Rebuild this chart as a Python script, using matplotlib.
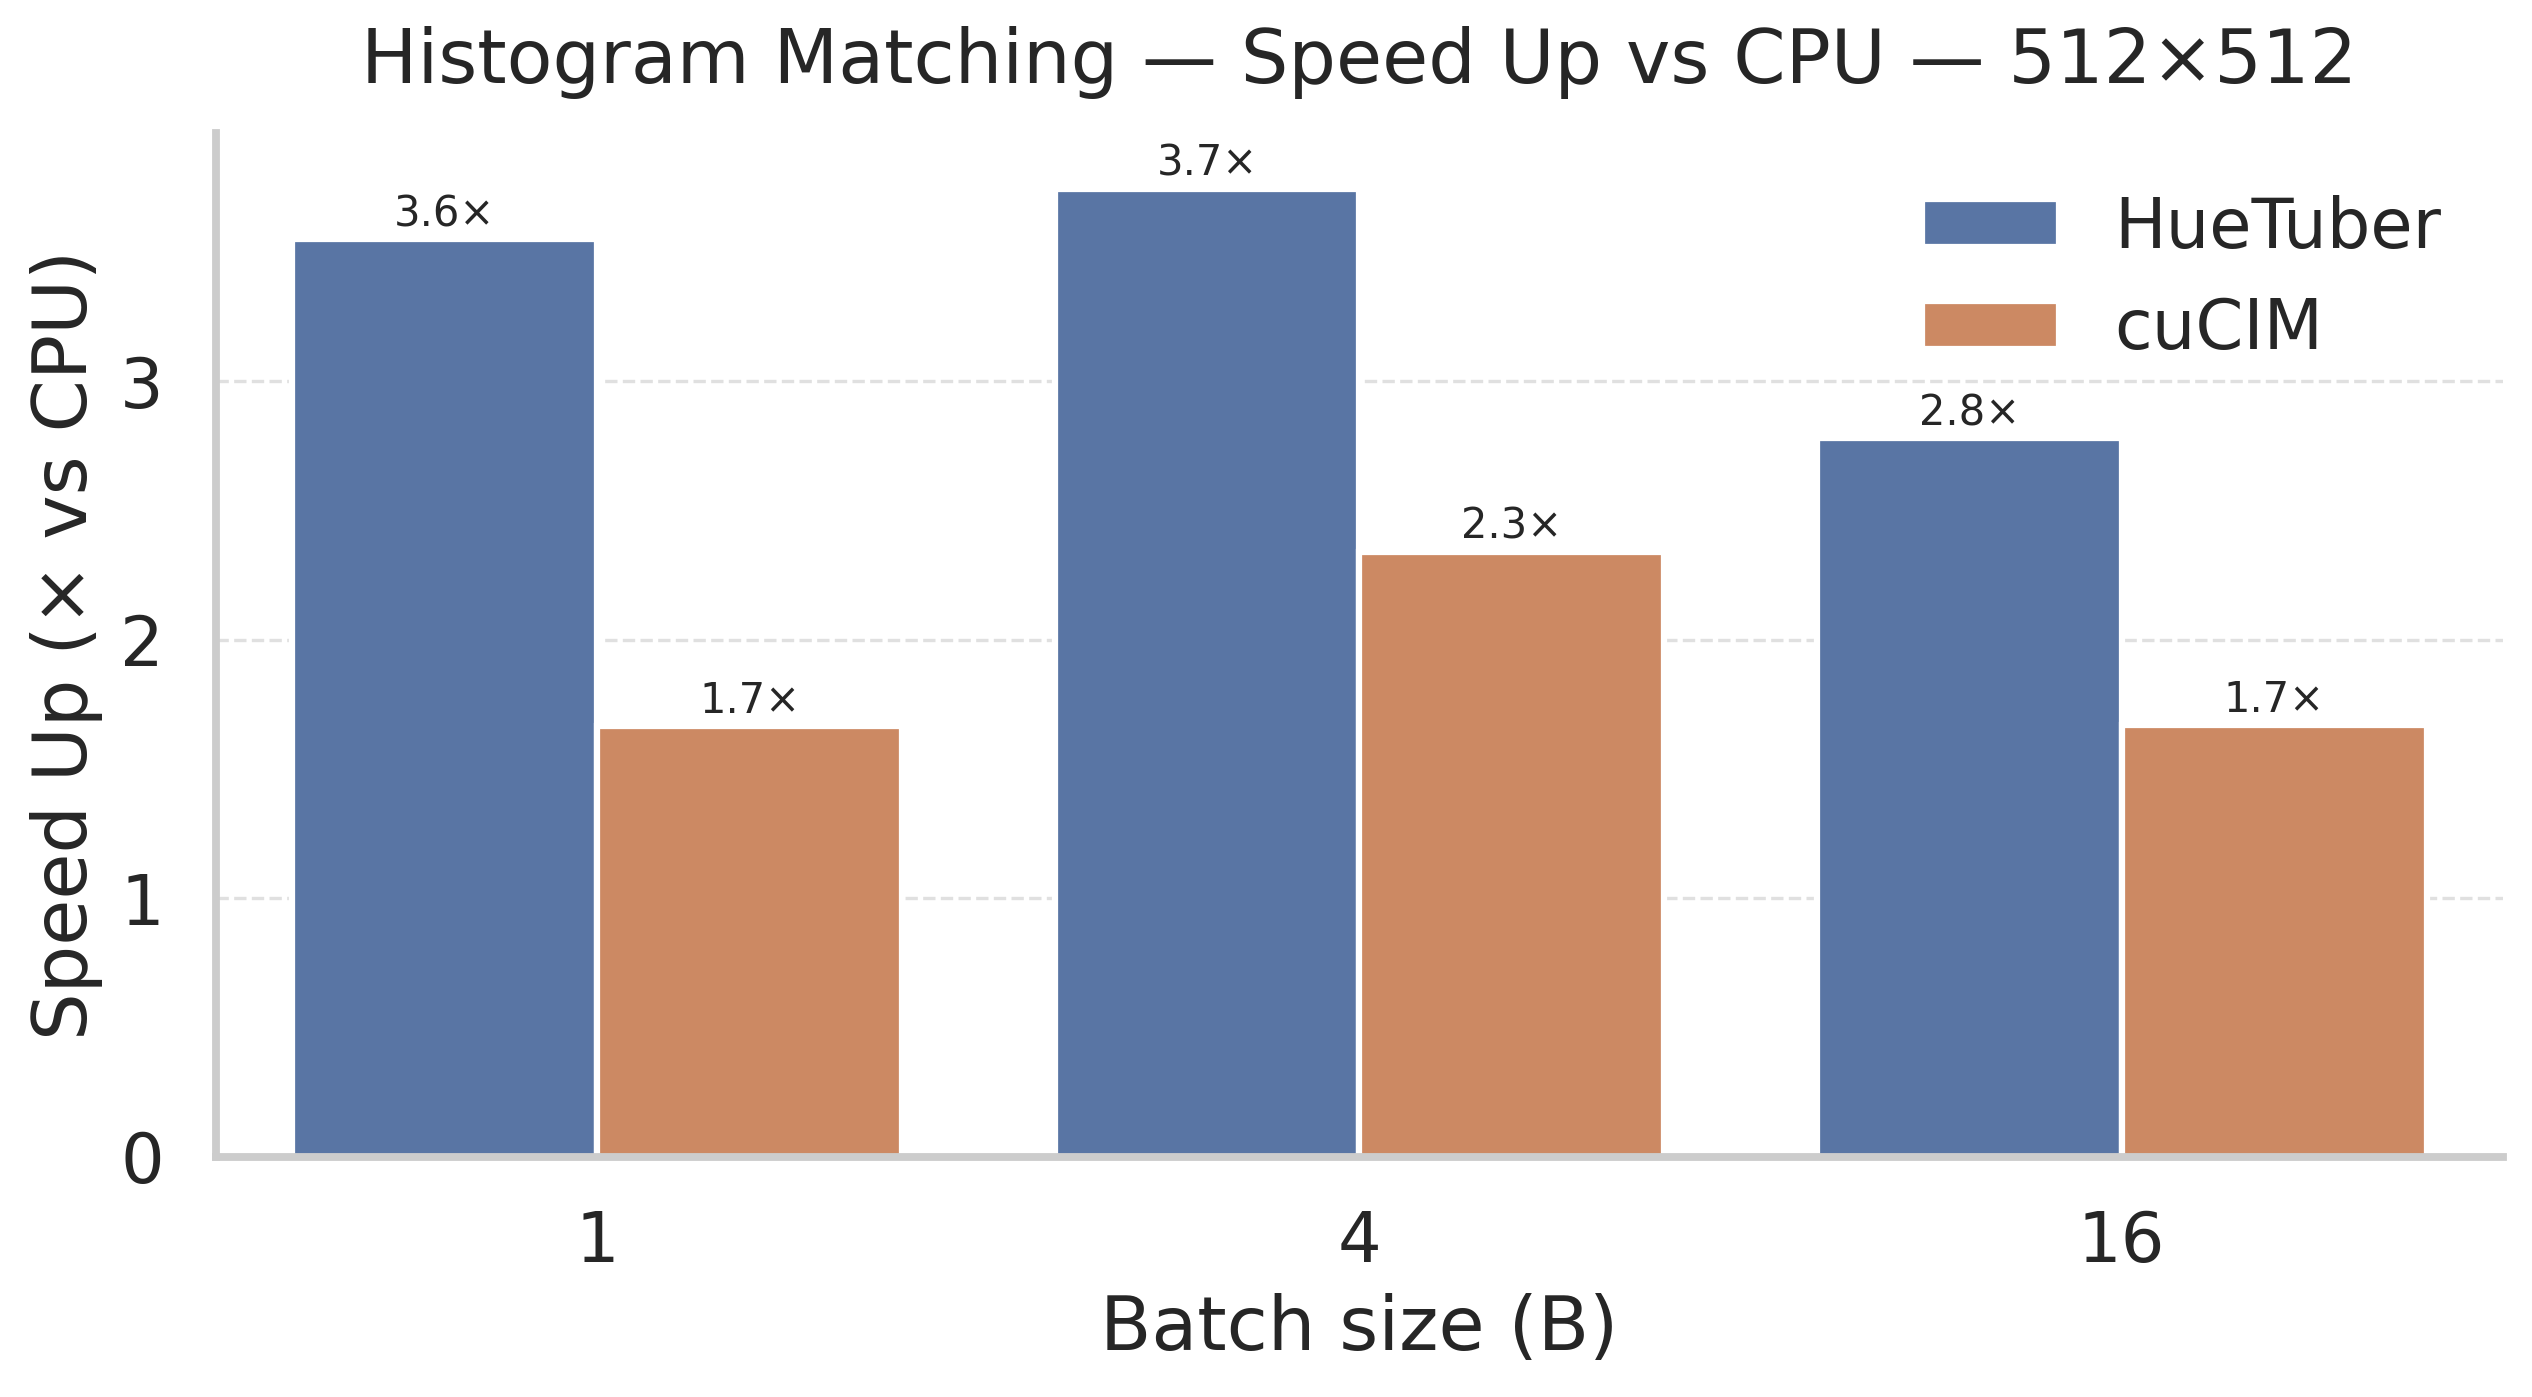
import matplotlib
matplotlib.use("Agg")
import matplotlib.pyplot as plt
import seaborn as sns
import pandas as pd

batch_sizes = ["1", "4", "16"]
methods = ["HueTuber", "cuCIM"]
hutuber_speedup = [3.55, 3.745, 2.78]
cucim_speedup = [1.665, 2.34, 1.67]
hutuber_labels = ["3.6×", "3.7×", "2.8×"]
cucim_labels = ["1.7×", "2.3×", "1.7×"]

sns.set_theme(style="whitegrid", context="talk")

df = pd.DataFrame({
    "B": batch_sizes * 2,
    "method": [methods[0]] * 3 + [methods[1]] * 3,
    "speedup": hutuber_speedup + cucim_speedup,
})

fig = plt.figure(figsize=(8.44, 4.657), dpi=300)
ax = fig.add_axes([0.0853, 0.172, 0.9032, 0.733])
sns.barplot(data=df, x="B", y="speedup", hue="method", order=batch_sizes,
            hue_order=methods, ax=ax)

for cont, labs in zip(ax.containers, [hutuber_labels, cucim_labels]):
    ax.bar_label(cont, labels=labs, padding=1, fontsize=10, color="#262626")

ax.set_ylim(0, max(hutuber_speedup + cucim_speedup) * 1.058)
ax.set_yticks([0, 1, 2, 3])
ax.xaxis.grid(False)
ax.yaxis.grid(True, linestyle="--", linewidth=0.8, alpha=0.6)
ax.set_xlabel("Batch size (B)")
ax.set_ylabel("Speed Up (× vs CPU)")
ax.set_title("Histogram Matching — Speed Up vs CPU — 512×512", pad=12)
ax.legend(frameon=False, loc="upper right")
sns.despine(ax=ax)

fig.savefig("out.png", dpi=300)
